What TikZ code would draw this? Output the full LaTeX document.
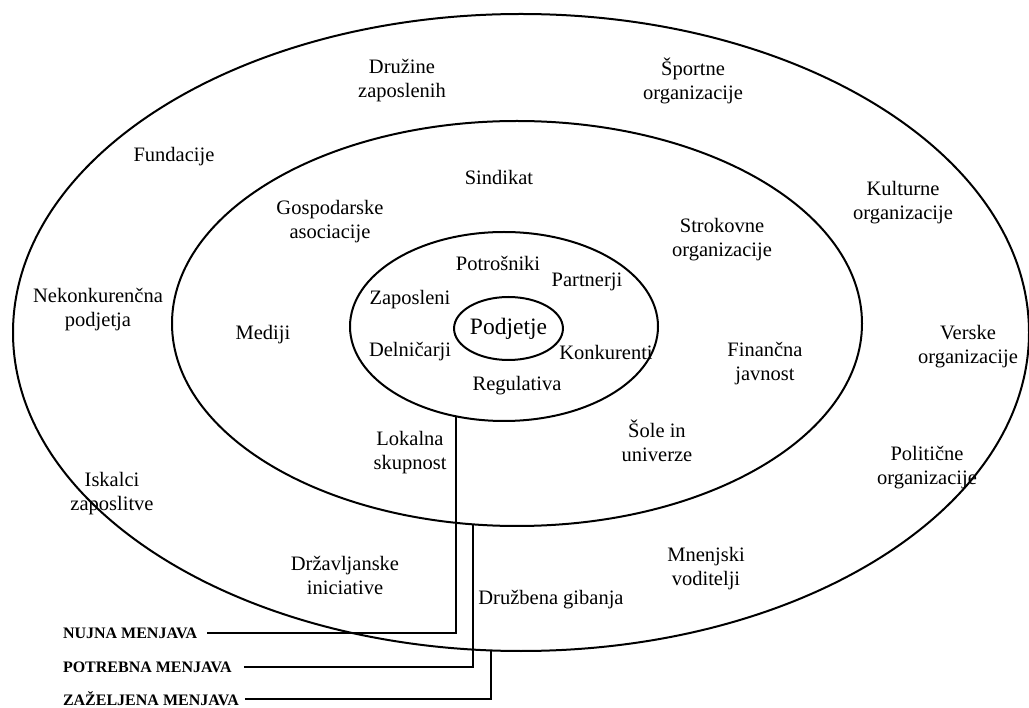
\documentclass[tikz,border=0pt]{standalone}
\usepackage{fontspec}
\setmainfont{Liberation Serif}
\usetikzlibrary{shapes.geometric}
\begin{document}
\begin{tikzpicture}[x=1pt,y=-1pt,
  ring/.style={draw, ellipse, line width=2pt, inner sep=0pt},
  lbl/.style={align=center, inner sep=0pt, font=\fontsize{20.5}{24}\selectfont},
  lvl/.style={anchor=west, inner sep=0pt, outer sep=0pt, font=\fontsize{16}{18}\selectfont\bfseries},
  lead/.style={line width=2pt}]
\useasboundingbox (0,0) rectangle (1029,708);

% concentric rings
\node[ring, minimum width=1016pt, minimum height=637pt] (outer) at (521,332.5) {};
\node[ring, minimum width=690pt, minimum height=405pt] (middle) at (517,323.5) {};
\node[ring, minimum width=308pt, minimum height=189pt] (inner) at (504,326.5) {};
\node[ring, minimum width=107pt, minimum height=63pt, font=\fontsize{23.5}{27}\selectfont] (core) at (508.5,328.5) {Podjetje};

% innermost stakeholders
\node[lbl] (potrosniki) at (498,263) {Potrošniki};
\node[lbl] (partnerji) at (587,282) {Partnerji};
\node[lbl] (zaposleni) at (410,300) {Zaposleni};
\node[lbl] (delnicarji) at (410,352) {Delničarji};
\node[lbl] (konkurenti) at (606,352) {Konkurenti};
\node[lbl] (regulativa) at (517,386) {Regulativa};

% middle ring
\node[lbl] (sindikat) at (499,177) {Sindikat};
\node[lbl] (gospodarske) at (330,222) {Gospodarske\\asociacije};
\node[lbl] (strokovne) at (722,240) {Strokovne\\organizacije};
\node[lbl] (mediji) at (263,335) {Mediji};
\node[lbl] (financna) at (765,364) {Finančna\\javnost};
\node[lbl] (lokalna) at (410,453) {Lokalna\\skupnost};
\node[lbl] (sole) at (657,441) {Šole in\\univerze};

% outer ring
\node[lbl] (druzine) at (402,81) {Družine\\zaposlenih};
\node[lbl] (sportne) at (693,81) {Športne\\organizacije};
\node[lbl] (fundacije) at (174,157) {Fundacije};
\node[lbl] (kulturne) at (903,203) {Kulturne\\organizacije};
\node[lbl] (nekonk) at (98,310) {Nekonkurenčna\\podjetja};
\node[lbl] (verske) at (968,347) {Verske\\organizacije};
\node[lbl] (iskalci) at (112,494) {Iskalci\\zaposlitve};
\node[lbl] (politicne) at (927,468) {Politične\\organizacije};
\node[lbl] (mnenjski) at (706,569) {Mnenjski\\voditelji};
\node[lbl] (drzavljanske) at (345,575) {Državljanske\\iniciative};
\node[lbl] (gibanja) at (551,600) {Družbena gibanja};

% levels of change
\node[lvl] (nujna) at (63,633) {NUJNA MENJAVA};
\node[lvl] (potrebna) at (63,667) {POTREBNA MENJAVA};
\node[lvl] (zazeljena) at (63,699) {ZAŽELJENA MENJAVA};

\coordinate (onInner) at (456,416.3);
\coordinate (onMiddle) at (473,524.4);
\coordinate (onOuter) at (491,650.4);

\draw[lead] ([xshift=10pt]nujna.east) -| (onInner);
\draw[lead] ([xshift=12pt]potrebna.east) -| (onMiddle);
\draw[lead] ([xshift=6pt]zazeljena.east) -| (onOuter);
\end{tikzpicture}
\end{document}
